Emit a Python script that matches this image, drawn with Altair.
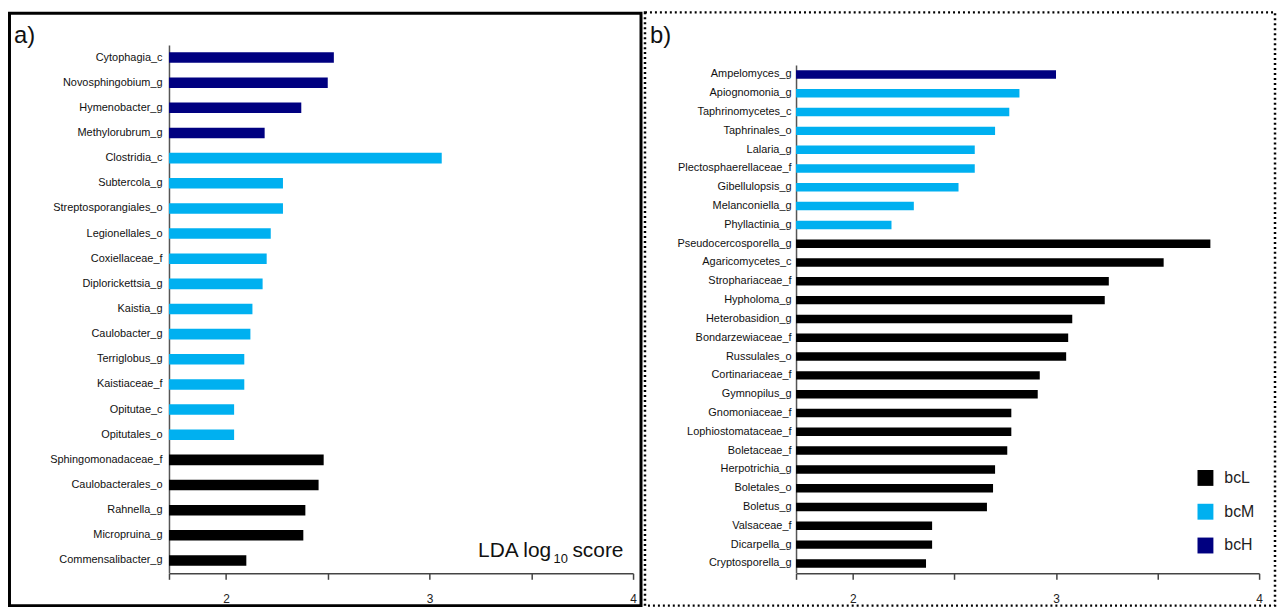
import altair as alt
import pandas as pd

FONT = "Liberation Sans"

# ---- panel a) (bacteria) ----
left_taxa = [
    "Cytophagia_c", "Novosphingobium_g", "Hymenobacter_g", "Methylorubrum_g",
    "Clostridia_c", "Subtercola_g", "Streptosporangiales_o", "Legionellales_o",
    "Coxiellaceae_f", "Diplorickettsia_g", "Kaistia_g", "Caulobacter_g",
    "Terriglobus_g", "Kaistiaceae_f", "Opitutae_c", "Opitutales_o",
    "Sphingomonadaceae_f", "Caulobacterales_o", "Rahnella_g", "Micropruina_g",
    "Commensalibacter_g",
]
left_scores = [
    2.53, 2.50, 2.37, 2.19,
    3.06, 2.28, 2.28, 2.22,
    2.20, 2.18, 2.13, 2.12,
    2.09, 2.09, 2.04, 2.04,
    2.48, 2.455, 2.39, 2.38,
    2.10,
]
left_groups = ["bcH"] * 4 + ["bcM"] * 12 + ["bcL"] * 5

# ---- panel b) (fungi) ----
right_taxa = [
    "Ampelomyces_g", "Apiognomonia_g", "Taphrinomycetes_c", "Taphrinales_o",
    "Lalaria_g", "Plectosphaerellaceae_f", "Gibellulopsis_g", "Melanconiella_g",
    "Phyllactinia_g", "Pseudocercosporella_g", "Agaricomycetes_c", "Strophariaceae_f",
    "Hypholoma_g", "Heterobasidion_g", "Bondarzewiaceae_f", "Russulales_o",
    "Cortinariaceae_f", "Gymnopilus_g", "Gnomoniaceae_f", "Lophiostomataceae_f",
    "Boletaceae_f", "Herpotrichia_g", "Boletales_o", "Boletus_g",
    "Valsaceae_f", "Dicarpella_g", "Cryptosporella_g",
]
right_scores = [
    3.00, 2.82, 2.77, 2.70,
    2.60, 2.60, 2.52, 2.30,
    2.19, 3.76, 3.53, 3.26,
    3.24, 3.08, 3.06, 3.05,
    2.92, 2.91, 2.78, 2.78,
    2.76, 2.70, 2.69, 2.66,
    2.39, 2.39, 2.36,
]
right_groups = ["bcH"] + ["bcM"] * 8 + ["bcL"] * 18

group_names = ["bcL", "bcM", "bcH"]
group_colors = ["#000000", "#00B0F0", "#000080"]

x_ticks = [1.72, 2, 2.5, 3, 3.5, 4]
x_domain = [1.72, 4]

left_df = pd.DataFrame({"taxon": left_taxa, "score": left_scores, "group": left_groups})
right_df = pd.DataFrame({"taxon": right_taxa, "score": right_scores, "group": right_groups})

CHART_H = 602
AXIS_Y = 567  # plot-coordinate row of both x axes

color = alt.Color(
    "group:N",
    scale=alt.Scale(domain=group_names, range=group_colors),
    legend=alt.Legend(
        title=None, orient="none", legendX=1197, legendY=463, padding=0,
        symbolType="square", symbolSize=256, symbolStrokeWidth=0,
        labelFont=FONT, labelFontSize=16, labelColor="#222222",
        labelOffset=11, rowPadding=18,
    ),
)


def panel(df, taxa, xrange, yrange, pad_inner, y_offset, label_pad):
    return alt.Chart(df).mark_bar().encode(
        x=alt.X(
            "score:Q",
            scale=alt.Scale(domain=x_domain, range=xrange, nice=False, zero=False),
            axis=alt.Axis(
                title=None, orient="bottom", values=x_ticks, grid=False,
                offset=AXIS_Y - CHART_H,
                labelExpr="(datum.value % 1 == 0) ? format(datum.value, 'd') : ''",
                labelFlush=False, labelOverlap=False, labelFont=FONT,
                labelFontSize=12, labelColor="#222222", labelPadding=14,
                tickSize=6, tickWidth=1.5, tickColor="#444444",
                domainColor="#444444", domainWidth=1.5,
            ),
        ),
        x2=alt.X2(datum=1.72),
        y=alt.Y(
            "taxon:N",
            sort=taxa,
            scale=alt.Scale(domain=taxa, range=yrange,
                            paddingInner=pad_inner, paddingOuter=pad_inner / 2),
            axis=alt.Axis(
                title=None, orient="left", offset=y_offset, ticks=False,
                labelFont=FONT, labelFontSize=11, labelColor="#111111",
                labelPadding=label_pad, labelOverlap=False,
                domainColor="#555555", domainWidth=1.5,
            ),
        ),
        color=color,
    )


left_panel = panel(left_df, left_taxa, [162, 629], [35.3, 566.7], 0.58, -162, 7)
right_panel = panel(right_df, right_taxa, [793, 1259], [55.5, 566.5], 0.55, -793, 5)

one = alt.Data(values=[{"k": 0}])

border_a = alt.Chart(one).mark_rect(filled=False, color="black", strokeWidth=3).encode(
    x=alt.value(1.5), x2=alt.value(637), y=alt.value(3.5), y2=alt.value(599.5)
)
border_b = alt.Chart(one).mark_rect(
    filled=False, color="black", strokeWidth=2.5, strokeDash=[2, 3]
).encode(
    x=alt.value(641), x2=alt.value(1275), y=alt.value(2.5), y2=alt.value(599.5)
)


def label(txt, x, y, size, align="left"):
    return alt.Chart(one).mark_text(
        text=txt, font=FONT, fontSize=size, align=align, baseline="alphabetic",
        color="#111111",
    ).encode(x=alt.value(x), y=alt.value(y))


texts = [
    label("a)", 6, 33, 24),
    label("b)", 646, 33, 24),
    label("LDA log", 473, 551, 21),
    label("10", 549, 557, 13),
    label("score", 568, 551, 21),
]

chart = alt.layer(border_a, border_b, left_panel, right_panel, *texts).resolve_scale(
    x="independent", y="independent"
).resolve_axis(
    x="independent", y="independent"
).properties(
    width=1277, height=CHART_H,
    autosize=alt.AutoSizeParams(type="none"),
    padding=0,
    background="white",
).configure_view(stroke=None)

chart.save("out.html", embed_options={"renderer": "svg", "actions": False})
